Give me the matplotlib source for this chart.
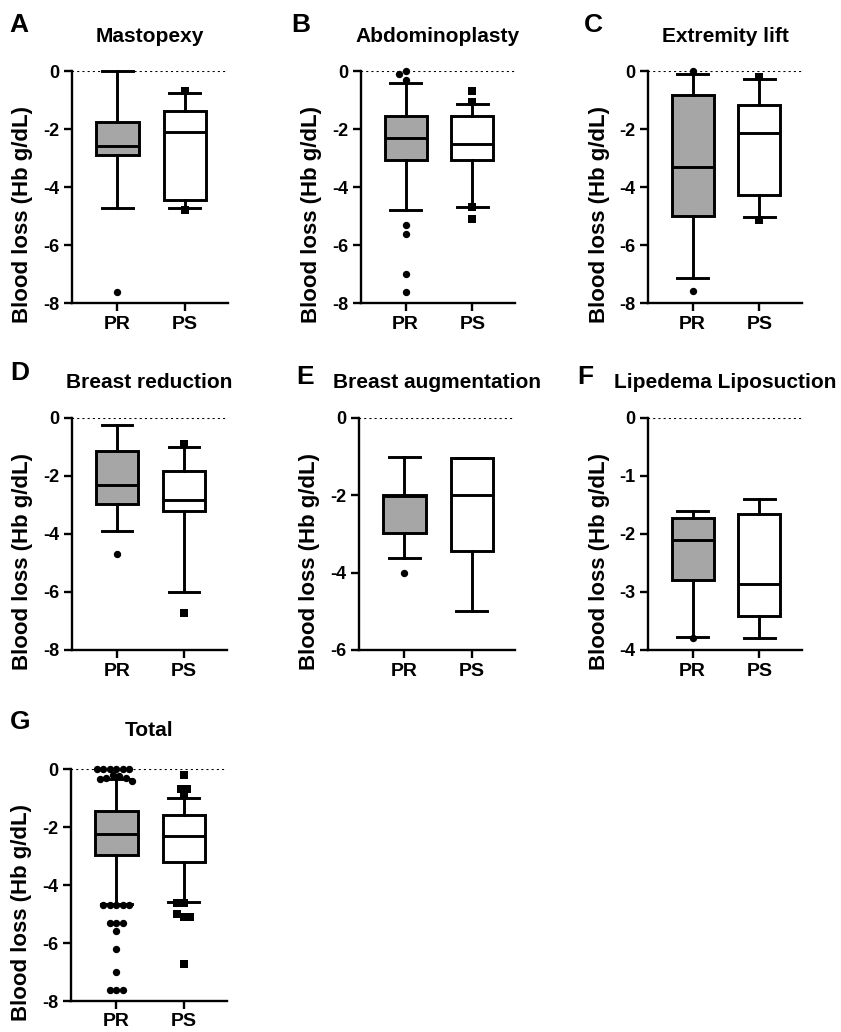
import matplotlib
matplotlib.use("Agg")
import matplotlib.pyplot as plt
import numpy as np

plt.rcParams['font.family'] = ['Liberation Sans', 'DejaVu Sans']
plt.rcParams['font.weight'] = 'bold'

# ---------------- data ----------------
letters = ["A", "B", "C", "D", "E", "F", "G"]
titles = ["Mastopexy", "Abdominoplasty", "Extremity lift", "Breast reduction",
          "Breast augmentation", "Lipedema Liposuction", "Total"]
groups = ["PR", "PS"]
ymins = [-8, -8, -8, -8, -6, -4, -8]
ytick_steps = [2, 2, 2, 2, 2, 1, 2]

# PR statistics: whisker low, q1, median, q3, whisker high
pr_whislo = [-4.73, -4.81, -7.14, -3.90, -3.61, -3.77, -4.66]
pr_q1 = [-2.89, -3.07, -4.99, -2.96, -2.97, -2.79, -2.97]
pr_med = [-2.60, -2.32, -3.32, -2.30, -2.02, -2.11, -2.25]
pr_q3 = [-1.77, -1.55, -0.82, -1.15, -2.00, -1.73, -1.45]
pr_whishi = [0.00, -0.40, -0.10, -0.23, -1.00, -1.61, -0.34]
pr_fliers = [
    [-7.63],
    [0.0, -0.1, -0.3, -5.30, -5.61, -6.99, -7.61],
    [0.0, -7.60],
    [-4.70],
    [-4.01],
    [-3.80],
    [0.0, 0.0, 0.0, 0.0, 0.0, 0.0, -0.2, -0.25, -0.3, -0.3, -0.35, -0.4,
     -4.70, -4.70, -4.70, -4.70, -4.70, -5.30, -5.30, -5.30, -5.60, -6.20,
     -7.00, -7.62, -7.62, -7.62],
]

# PS statistics
ps_whislo = [-4.73, -4.70, -5.05, -6.00, -5.00, -3.79, -4.57]
ps_q1 = [-4.45, -3.07, -4.27, -3.20, -3.45, -3.41, -3.20]
ps_med = [-2.12, -2.53, -2.15, -2.82, -2.00, -2.86, -2.30]
ps_q3 = [-1.38, -1.55, -1.17, -1.82, -1.04, -1.66, -1.59]
ps_whishi = [-0.75, -1.13, -0.29, -0.99, -1.04, -1.39, -1.00]
ps_fliers = [
    [-0.70, -4.78],
    [-0.68, -1.06, -4.70, -5.11],
    [-0.20, -5.14],
    [-0.90, -6.71],
    [],
    [],
    [-0.20, -0.90, -0.69, -0.69, -4.62, -4.62, -5.11, -5.01, -5.11, -6.72],
]

# ---------------- layout (pixels) ----------------
W, H = 841, 1032
fig = plt.figure(figsize=(W / 100, H / 100), dpi=100)

# axes boxes: left, right, top, bottom in pixels
boxes_px = [
    (72, 228, 71, 303), (361, 515, 71, 303), (648, 802, 71, 303),
    (72, 227, 418, 650), (359, 515, 418, 650), (648, 802, 418, 650),
    (71, 227, 769, 1001),
]
letter_px = [(9, 13), (291, 13), (584, 13), (10, 361), (296, 365), (577, 365), (10, 710)]
title_y = [37, 37, 37, 383, 383, 383, 730]

PR_COLOR = "#a6a6a6"
LW = 2.1


def beeswarm(ax, xc, vals, diam_px):
    """Compute x positions so that markers do not overlap (display space)."""
    placed = []
    xs = []
    to_disp = ax.transData
    x0_disp = to_disp.transform((xc, 0))[0]
    for v in vals:
        yd = to_disp.transform((xc, v))[1]
        step = diam_px * 0.5
        k = 0
        while True:
            cands = [0.0] if k == 0 else [-k * step, k * step]
            ok = None
            for c in cands:
                xd = x0_disp + c
                if all((xd - px) ** 2 + (yd - py) ** 2 >= (diam_px * 0.95) ** 2 for px, py in placed):
                    ok = xd
                    break
            if ok is not None:
                placed.append((ok, yd))
                xs.append(ax.transData.inverted().transform((ok, yd))[0])
                break
            k += 1
    return xs


for i in range(7):
    l, r, t, b = boxes_px[i]
    ax = fig.add_axes([l / W, 1 - b / H, (r - l) / W, (b - t) / H])
    ax.set_xlim(-0.67, 1.64)
    ax.set_ylim(ymins[i], 0)

    stats = []
    for k, (lo, q1, med, q3, hi) in enumerate([
        (pr_whislo[i], pr_q1[i], pr_med[i], pr_q3[i], pr_whishi[i]),
        (ps_whislo[i], ps_q1[i], ps_med[i], ps_q3[i], ps_whishi[i]),
    ]):
        stats.append(dict(whislo=lo, q1=q1, med=med, q3=q3, whishi=hi,
                          fliers=[], label=groups[k]))

    ax.axhline(0, color="black", lw=1.5, ls=(0, (1, 1.5)), zorder=1)

    bp = ax.bxp(stats, positions=[0, 1], widths=0.63, capwidths=0.46,
                patch_artist=True, showfliers=False,
                boxprops=dict(lw=LW, edgecolor="black"),
                medianprops=dict(color="black", lw=LW),
                whiskerprops=dict(color="black", lw=LW),
                capprops=dict(color="black", lw=LW))
    bp["boxes"][0].set_facecolor(PR_COLOR)
    bp["boxes"][1].set_facecolor("white")
    for art in bp["boxes"] + bp["medians"] + bp["whiskers"] + bp["caps"]:
        art.set_clip_on(False)
        art.set_zorder(3)

    # outliers
    if pr_fliers[i]:
        xs = beeswarm(ax, 0, pr_fliers[i], 6.5)
        ax.scatter(xs, pr_fliers[i], s=28, marker="o", color="black", zorder=4,
                   clip_on=False, linewidths=0)
    if ps_fliers[i]:
        xs = beeswarm(ax, 1, ps_fliers[i], 6.5)
        ax.scatter(xs, ps_fliers[i], s=28, marker="s", color="black", zorder=4,
                   clip_on=False, linewidths=0)

    ticks = np.arange(0, ymins[i] - 0.01, -ytick_steps[i])
    ax.set_yticks(ticks)
    ax.set_yticklabels([f"{int(v)}" if v != 0 else "0" for v in ticks])
    ax.set_xticks([0, 1])
    ax.set_xticklabels(groups)

    for s in ["top", "right"]:
        ax.spines[s].set_visible(False)
    for s in ["left", "bottom"]:
        ax.spines[s].set_linewidth(1.7)
    ax.tick_params(axis="y", width=1.7, length=6, labelsize=13, pad=3)
    ax.tick_params(axis="x", width=1.7, length=6, labelsize=14, pad=3)
    for lab in ax.get_yticklabels() + ax.get_xticklabels():
        lab.set_fontweight("bold")
    ax.set_ylabel("Blood loss (Hb g/dL)", fontsize=16, fontweight="bold")
    ax.yaxis.set_label_coords(-0.25, 0.38)

    cx = (l + r) / 2
    fig.text(cx / W, 1 - title_y[i] / H, titles[i], ha="center", va="center",
             fontsize=15, fontweight="bold")
    lx, ly = letter_px[i]
    fig.text(lx / W, 1 - ly / H, letters[i], ha="left", va="top",
             fontsize=19, fontweight="bold")

fig.savefig("out.png", dpi=100)
